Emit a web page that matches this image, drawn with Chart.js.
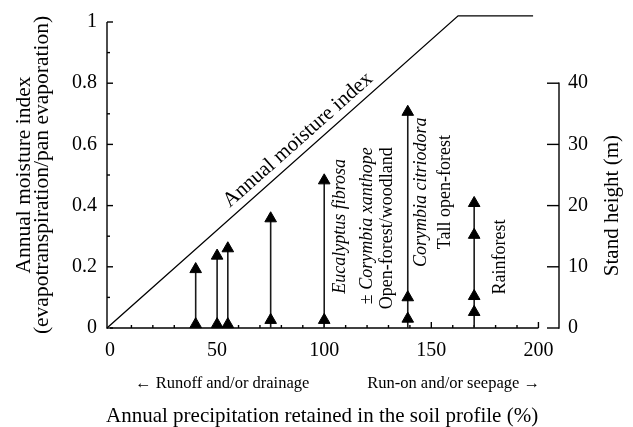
<!DOCTYPE html>
<html>
<head>
<meta charset="utf-8">
<script src="https://cdn.jsdelivr.net/npm/chart.js@4.4.1/dist/chart.umd.min.js"></script>
<style>
html,body{margin:0;padding:0;background:#fff;}
#wrap{position:relative;width:633px;height:427px;}
</style>
</head>
<body>
<div id="wrap"><canvas id="chart" width="633" height="427"></canvas></div>
<script>
// ---------- data ----------
const moistureX = [-1.4, 162.5, 197.5];          // annual precipitation retained (%)
const moistureY = [0, 1.02, 1.02];               // annual moisture index
const standX = [40, 50, 55, 75, 100, 139, 170];  // stand positions (%)
const standHeights = [                           // stand heights (m)
  [0.6, 9.6],
  [0.6, 11.8],
  [0.6, 13.0],
  [1.3, 17.9],
  [1.3, 24.1],
  [1.5, 5.0, 35.3],
  [2.6, 5.2, 15.2, 20.4]
];
const stemBase = 0;
const xTicks = [0, 50, 100, 150, 200];
const yTicks = [0, 0.2, 0.4, 0.6, 0.8, 1];
const heightTicks = [0, 10, 20, 30, 40];
const xBounds = [-1.4, 209.6];
const yBounds = [0, 1];
const heightBounds = [0, 50];

// ---------- texts ----------
const yTitle = ['Annual moisture index', '(evapotranspiration/pan evaporation)'];
const xTitle = 'Annual precipitation retained in the soil profile (%)';
const rightTitle = 'Stand height (m)';
const lineLabel = 'Annual moisture index';
const leftNote = '\u2190 Runoff and/or drainage';
const rightNote = 'Run-on and/or seepage \u2192';

// ---------- layout / style (kept apart from data) ----------
const SERIF = '"Liberation Serif", "Times New Roman", serif';
const noteLayout = [
  {parts: [{t: 'Eucalyptus fibrosa', i: true}], x: 107.4, h: 16.6},
  {parts: [{t: '\u00b1 ', i: false}, {t: 'Corymbia xanthope', i: true}], x: 120.0, h: 16.7},
  {parts: [{t: 'Open-forest/woodland', i: false}], x: 129.3, h: 16.3},
  {parts: [{t: 'Corymbia citriodora', i: true}], x: 145.2, h: 22.2},
  {parts: [{t: 'Tall open-forest', i: false}], x: 156.4, h: 22.2},
  {parts: [{t: 'Rainforest', i: false}], x: 182.0, h: 11.6}
];
const lineLabelAt = 92;      // x value along the moisture line where label is centred
const lineLabelGap = 8;      // px between line and label baseline
const heightAxisTop = 40;    // the right axis line stops at 40 m
const xAxisEnd = 200;

const datasets = [{
  label: 'Annual moisture index',
  data: moistureX.map((x, i) => ({x: x, y: moistureY[i]})),
  yAxisID: 'y',
  showLine: true,
  borderColor: '#000',
  borderWidth: 1.3,
  pointRadius: 0,
  clip: false,
  tension: 0
}];
standX.forEach((x, k) => {
  datasets.push({
    label: 'Stand at ' + x,
    data: [{x: x, y: stemBase}].concat(standHeights[k].map(h => ({x: x, y: h}))),
    yAxisID: 'y2',
    showLine: true,
    borderColor: '#1a1a1a',
    borderWidth: 1.6,
    pointStyle: 'triangle',
    pointRadius: c => (c.dataIndex === 0 ? 0 : 6.7),
    pointHoverRadius: 0,
    pointBackgroundColor: '#000',
    pointBorderColor: '#000',
    pointBorderWidth: 1,
    clip: false
  });
});

function line(ctx, x1, y1, x2, y2) {
  ctx.beginPath(); ctx.moveTo(x1, y1); ctx.lineTo(x2, y2); ctx.stroke();
}

const decor = {
  id: 'decor',
  beforeDatasetsDraw(chart) {
    const ctx = chart.ctx, a = chart.chartArea;
    const sx = chart.scales.x, sy = chart.scales.y, sh = chart.scales.y2;
    ctx.save();
    ctx.strokeStyle = '#000';
    ctx.lineWidth = 1.4;
    ctx.lineCap = 'butt';
    // left axis
    line(ctx, a.left, sy.getPixelForValue(yBounds[0]) + 0.7, a.left, sy.getPixelForValue(yBounds[1]));
    for (let i = 0; i <= 10; i++) {
      const py = sy.getPixelForValue(i / 10);
      line(ctx, a.left, py, a.left + (i % 2 === 0 ? 6 : 3), py);
    }
    // bottom axis
    line(ctx, sx.getPixelForValue(0), a.bottom, sx.getPixelForValue(xAxisEnd), a.bottom);
    for (let i = 1; i <= 20; i++) {
      const px = sx.getPixelForValue(i * 10);
      line(ctx, px, a.bottom, px, a.bottom - (i % 5 === 0 ? 6 : 3));
    }
    // right axis
    line(ctx, a.right, sh.getPixelForValue(0) + 0.7, a.right, sh.getPixelForValue(heightAxisTop) - 0.7);
    heightTicks.forEach(v => {
      const py = sh.getPixelForValue(v);
      line(ctx, a.right, py, a.right - 12, py);
    });
    ctx.restore();
  },
  afterDraw(chart) {
    const ctx = chart.ctx, a = chart.chartArea;
    const sx = chart.scales.x, sh = chart.scales.y2;
    ctx.save();
    ctx.fillStyle = '#000';

    // x title and arrow notes
    ctx.font = '21px ' + SERIF;
    ctx.textAlign = 'center';
    ctx.textBaseline = 'alphabetic';
    ctx.fillText(xTitle, sx.getPixelForValue(99), a.bottom + 94);
    ctx.font = '16.5px ' + SERIF;
    ctx.textAlign = 'left';
    ctx.fillText(leftNote, sx.getPixelForValue(11.7), a.bottom + 60);
    ctx.textAlign = 'right';
    ctx.fillText(rightNote, sx.getPixelForValue(200.7), a.bottom + 60);

    // right title
    ctx.save();
    ctx.translate(a.right + 59, (sh.getPixelForValue(0) + sh.getPixelForValue(heightAxisTop)) / 2);
    ctx.rotate(-Math.PI / 2);
    ctx.font = '21px ' + SERIF;
    ctx.textAlign = 'center';
    ctx.textBaseline = 'alphabetic';
    ctx.fillText(rightTitle, 0, 0);
    ctx.restore();

    // label along the moisture line
    const pts = chart.getDatasetMeta(0).data;
    const p0 = pts[0], p1 = pts[1];
    const ang = Math.atan2(p1.y - p0.y, p1.x - p0.x);
    const t = (lineLabelAt - moistureX[0]) / (moistureX[1] - moistureX[0]);
    const ax = p0.x + t * (p1.x - p0.x), ay = p0.y + t * (p1.y - p0.y);
    ctx.save();
    ctx.translate(ax, ay);
    ctx.rotate(ang);
    ctx.font = '21px ' + SERIF;
    ctx.textAlign = 'center';
    ctx.textBaseline = 'alphabetic';
    ctx.fillText(lineLabel, 0, -lineLabelGap);
    ctx.restore();

    // vertical annotations
    noteLayout.forEach(n => {
      const fonts = n.parts.map(p => (p.i ? 'italic ' : '') + '18px ' + SERIF);
      let total = 0;
      const widths = n.parts.map((p, k) => { ctx.font = fonts[k]; const w = ctx.measureText(p.t).width; total += w; return w; });
      ctx.save();
      ctx.translate(sx.getPixelForValue(n.x), sh.getPixelForValue(n.h));
      ctx.rotate(-Math.PI / 2);
      ctx.textAlign = 'left';
      ctx.textBaseline = 'middle';
      let cx = -total / 2;
      n.parts.forEach((p, k) => { ctx.font = fonts[k]; ctx.fillText(p.t, cx, 0); cx += widths[k]; });
      ctx.restore();
    });
    ctx.restore();
  }
};

const tickFont = {family: SERIF, size: 20};

new Chart(document.getElementById('chart'), {
  type: 'scatter',
  data: {datasets: datasets},
  options: {
    responsive: false,
    animation: false,
    devicePixelRatio: 1,
    events: [],
    layout: {padding: {top: 14.5, left: 0, right: 0, bottom: 0}},
    plugins: {legend: {display: false}, tooltip: {enabled: false}},
    scales: {
      x: {
        type: 'linear', position: 'bottom',
        min: xBounds[0], max: xBounds[1],
        grid: {display: false, drawTicks: false},
        border: {display: false},
        afterBuildTicks: s => { s.ticks = xTicks.map(v => ({value: v})); },
        afterFit: s => { s.height = 99; },
        ticks: {padding: 11, color: '#000', font: tickFont, maxRotation: 0, autoSkip: false, callback: v => String(v)}
      },
      y: {
        type: 'linear', position: 'left',
        min: yBounds[0], max: yBounds[1],
        grid: {display: false, drawTicks: false},
        border: {display: false},
        afterBuildTicks: s => { s.ticks = yTicks.map(v => ({value: v})); },
        afterFit: s => { s.width = 107; },
        ticks: {padding: 10, color: '#000', font: tickFont, autoSkip: false, callback: v => String(+v.toFixed(2))},
        title: {display: true, text: yTitle, color: '#000', font: {family: SERIF, size: 21.5, lineHeight: '18.5px'}, padding: {top: 15, bottom: 0}}
      },
      y2: {
        type: 'linear', position: 'right',
        min: heightBounds[0], max: heightBounds[1],
        grid: {display: false, drawTicks: false},
        border: {display: false},
        afterBuildTicks: s => { s.ticks = heightTicks.map(v => ({value: v})); },
        afterFit: s => { s.width = 74; },
        ticks: {padding: 9, color: '#000', font: tickFont, autoSkip: false, callback: v => String(v)}
      }
    }
  },
  plugins: [decor]
});
</script>
</body>
</html>
